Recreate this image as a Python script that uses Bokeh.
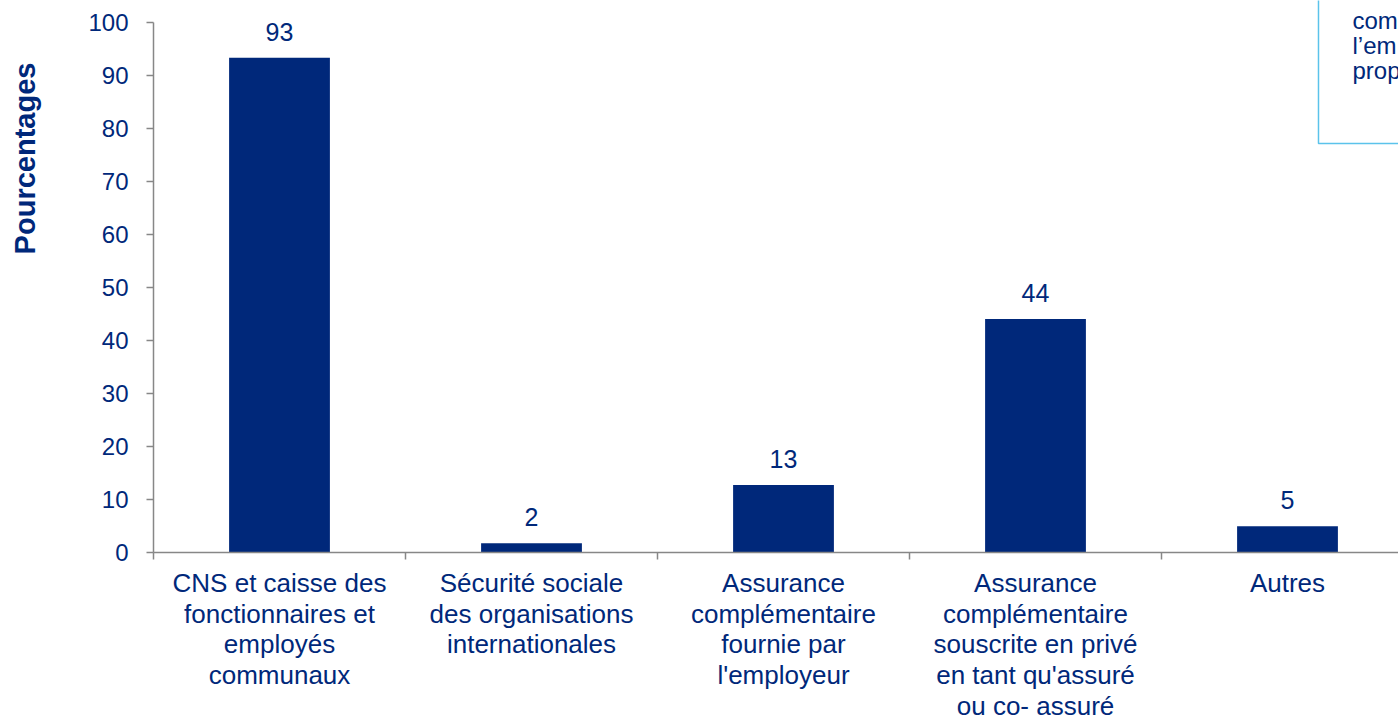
from bokeh.plotting import figure
from bokeh.models import Range1d, FixedTicker, ColumnDataSource
from bokeh.core.properties import value
from bokeh.embed import file_html
from bokeh.resources import INLINE
import math

# ---- data ----
categories = [
    "CNS et caisse des\nfonctionnaires et\nemployés\ncommunaux",
    "Sécurité sociale\ndes organisations\ninternationales",
    "Assurance\ncomplémentaire\nfournie par\nl'employeur",
    "Assurance\ncomplémentaire\nsouscrite en privé\nen tant qu'assuré\nou co- assuré",
    "Autres",
]
values = [93.3, 1.7, 12.7, 44.0, 4.9]
value_labels = ["93", "2", "13", "44", "5"]
y_ticks = [0, 10, 20, 30, 40, 50, 60, 70, 80, 90, 100]
note_lines = ["com", "l\u2019em", "prop"]
y_title = "Pourcentages"

# ---- style ----
NAVY = "#00287A"
GREY = "#878787"
FONT = "Liberation Sans"
W, H = 1398, 717
AXIS_X = 153.0            # pixel column of the y axis
ZERO_Y = 551.7            # pixel row of the value 0
CAT_PX = 252.0
PX_PER_UNIT = 5.3

x_start = -0.5 - AXIS_X / CAT_PX
x_end = -0.5 + (W - AXIS_X) / CAT_PX
y_end = ZERO_Y / PX_PER_UNIT
y_start = -(H - ZERO_Y) / PX_PER_UNIT
title_x = -0.5 - (AXIS_X - 24) / CAT_PX
title_y = (ZERO_Y - 158) / PX_PER_UNIT

xs = list(range(len(categories)))
src = ColumnDataSource(dict(x=xs, top=values, lab=value_labels))

p = figure(width=W, height=H, output_backend="svg", toolbar_location=None,
           x_range=Range1d(x_start, x_end), y_range=Range1d(y_start, y_end),
           min_border_left=0, min_border_bottom=0,
           min_border_top=0, min_border_right=0)
p.outline_line_color = None
p.xgrid.visible = False
p.ygrid.visible = False
p.background_fill_color = "white"
p.border_fill_color = "white"

p.vbar(x="x", top="top", width=0.4, bottom=0, source=src,
       fill_color=NAVY, line_color=None)
p.text(x="x", y="top", text="lab", source=src, text_align="center",
       text_baseline="alphabetic", y_offset=-26, text_color=NAVY,
       text_font=value(FONT), text_font_size="25px")

# note box in the top-right corner (partially cut off)
p.quad(left=4.123, right=5.0, bottom=77.1, top=y_end + 5,
       fill_color="white", line_color="#5BC3EB", line_width=1.5)
p.text(x=[4.258] * 3, y=[100.4, 95.65, 90.9], text=note_lines,
       text_baseline="middle", text_align="left", text_color=NAVY,
       text_font=value(FONT), text_font_size="24px")

# y-axis title
p.text(x=[title_x], y=[title_y], text=[y_title], angle=math.pi / 2,
       text_align="center", text_baseline="middle", text_color=NAVY,
       text_font=value(FONT), text_font_size="29px", text_font_style="bold")

# x axis, pinned at value 0
xa = p.xaxis[0]
xa.fixed_location = 0
xa.bounds = (-0.5, x_end)
xa.ticker = FixedTicker(ticks=xs, minor_ticks=[i - 0.5 for i in range(len(categories) + 1)])
xa.major_label_overrides = {i: c for i, c in enumerate(categories)}
xa.major_tick_line_color = None
xa.major_tick_out = 0
xa.major_tick_in = 0
xa.minor_tick_out = 7
xa.minor_tick_in = 0
xa.minor_tick_line_color = GREY
xa.minor_tick_line_width = 1.5
xa.axis_line_color = GREY
xa.axis_line_width = 1.5
xa.major_label_standoff = 9
xa.major_label_text_font = FONT
xa.major_label_text_font_size = "26px"
xa.major_label_text_color = NAVY
xa.major_label_text_line_height = 1.02

# y axis, pinned at the left edge of the first category
ya = p.yaxis[0]
ya.fixed_location = -0.5
ya.ticker = FixedTicker(ticks=y_ticks, minor_ticks=[])
ya.bounds = (0, 100)
ya.major_tick_out = 7
ya.major_tick_in = 0
ya.major_tick_line_color = GREY
ya.major_tick_line_width = 1.5
ya.minor_tick_line_color = None
ya.axis_line_color = GREY
ya.axis_line_width = 1.5
ya.major_label_standoff = 18
ya.major_label_text_font = FONT
ya.major_label_text_font_size = "24px"
ya.major_label_text_color = NAVY

open("out.html", "w").write(file_html(p, INLINE))
